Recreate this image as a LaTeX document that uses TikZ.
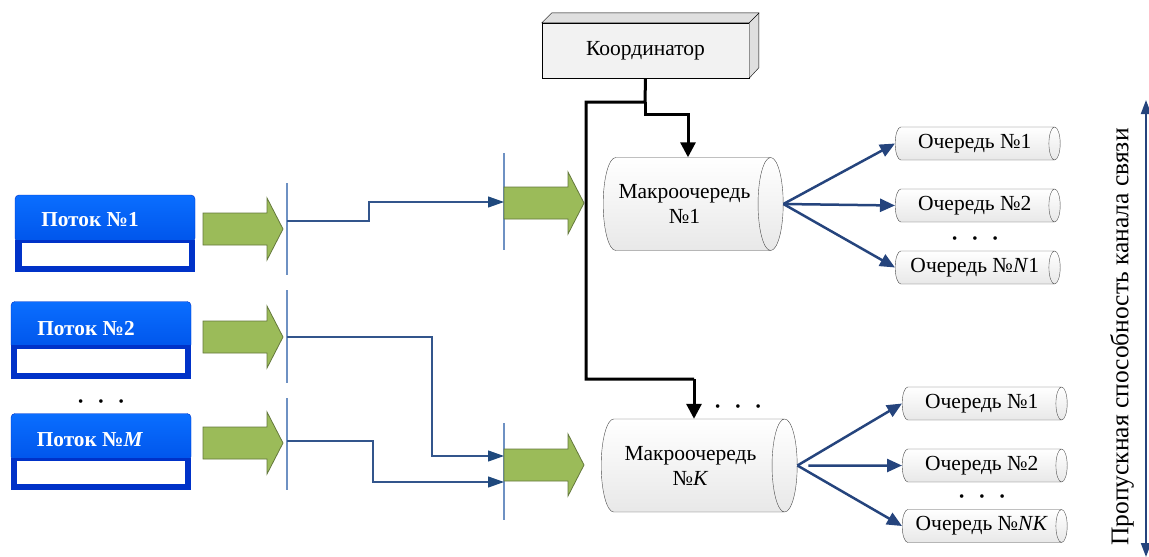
\documentclass[tikz,border=0pt]{standalone}
\usepackage{fontspec}
\setmainfont{Liberation Serif}
\usetikzlibrary{arrows.meta,shapes.geometric,positioning}

\definecolor{flowtop}{RGB}{10,110,255}
\definecolor{flowbot}{RGB}{0,85,235}
\definecolor{flowrim}{RGB}{0,50,200}
\definecolor{greenfill}{RGB}{155,187,89}
\definecolor{greendraw}{RGB}{100,120,60}
\definecolor{barblue}{RGB}{110,145,195}
\definecolor{linkblue}{RGB}{50,85,140}
\definecolor{tipblue}{RGB}{31,73,125}
\definecolor{qblue}{RGB}{37,68,125}

\tikzset{
  flowhead/.style={rounded corners=4pt, top color=flowtop, bottom color=flowbot,
    draw=flowrim, minimum width=180, minimum height=47},
  flowlabel/.style={text=white, font=\fontsize{21.3}{25}\selectfont\bfseries},
  greenarrow/.style={fill=greenfill, draw=greendraw, line width=0.8pt},
  bigarrow/.pic={\draw[greenarrow] (-40,-16) -- (24,-16) -- (24,-31) -- (40,0)
    -- (24,31) -- (24,16) -- (-40,16) -- cycle;},
  bar/.style={draw=barblue, line width=1.5pt},
  link/.style={draw=linkblue, line width=1.2pt, -{Triangle[length=16pt,width=11pt,color=tipblue]}},
  ctrl/.style={line width=3pt, -{Triangle[length=15pt,width=15pt]}},
  coordbox/.style={draw, fill=gray!10, minimum width=207, minimum height=55,
    font=\fontsize{21.5}{25}\selectfont},
  macro/.style={cylinder, shape border rotate=0, aspect=0.55, draw=gray!60!black,
    top color=white, bottom color=gray!18, minimum width=93, anchor=west,
    align=center, font=\fontsize{21.5}{25}\selectfont},
  queue/.style={cylinder, shape border rotate=0, aspect=0.6, draw=gray!60!black,
    top color=white, bottom color=gray!18, minimum width=33, minimum height=165,
    anchor=west, inner sep=0pt, font=\fontsize{21.5}{25}\selectfont},
  qarrow/.style={draw=qblue, line width=2.5pt, -{Triangle[length=15pt,width=13pt]}},
  dots/.style={font=\fontsize{15}{15}\selectfont},
}

\begin{document}
\begin{tikzpicture}[x=1pt, y=-1pt]
\useasboundingbox (0,0) rectangle (1149,557);

% flows
\node[flowhead] (flow1) at (105,218.5) {};
\fill[flowrim] (15,240) rectangle (195,272);
\fill[white] (22,243) rectangle (189,266);
\node[flowlabel] (flow1text) at (90,220) {Поток №1};
\node[flowhead] (flow2) at (101,325) {};
\fill[flowrim] (11,345) rectangle (191,379);
\fill[white] (17,349) rectangle (185,373);
\node[flowlabel] (flow2text) at (86,329) {Поток №2};
\node[flowhead] (flowM) at (101,437) {};
\fill[flowrim] (11,458) rectangle (191,490);
\fill[white] (17,461) rectangle (185,484);
\node[flowlabel] (flowMtext) at (90,440) {Поток №\textit{M}};
\node[dots] (fdots) at (101,403) {\textbullet\hspace{15pt}\textbullet\hspace{15pt}\textbullet};

% input arrows
\pic at (243,229) {bigarrow};
\pic at (243,337) {bigarrow};
\pic at (243,443) {bigarrow};

% bars
\draw[bar] (287,183) -- (287,275);
\draw[bar] (287,290) -- (287,383);
\draw[bar] (287,398) -- (287,490);
\draw[bar] (504,153) -- (504,250);
\draw[bar] (504,423) -- (504,520);

% switching
\coordinate (s1) at (287,221);
\coordinate (s2) at (287,337);
\coordinate (s3) at (287,441);
\coordinate (t1) at (504,202);
\coordinate (t2) at (504,456);
\coordinate (t3) at (504,482);
\draw[link] (s1) -- (369,221) |- (t1);
\draw[link] (s2) -- (432,337) |- (t2);
\draw[link] (s3) -- (373,441) |- (t3);

\pic at (544,203) {bigarrow};
\pic at (544,465) {bigarrow};

% coordinator
\node[coordbox] (coord) at (645.5,50.5) {Координатор};
\draw[fill=gray!25] (coord.north west) -- ++(10,-10) -- ++(207,0) -- ++(0,55)
  -- (coord.south east) -- (coord.north east) -- cycle;
\draw (coord.north east) -- ++(10,-10);

% macro queues
\node[macro, minimum height=180] (macro1) at (603,204) {Макроочередь\\№1};
\node[macro, minimum height=196] (macroK) at (601,465.5) {Макроочередь\\№\textit{K}};
\node[dots] (kdots) at (738,408) {\textbullet\hspace{15pt}\textbullet\hspace{15pt}\textbullet};

\coordinate (c1) at (645,102);
\coordinate (m0) at (688,114);
\coordinate (k0) at (694,379);
\draw[line width=3pt] (coord.south) -- (c1) -| (586,379) -- (k0);
\draw[ctrl] (k0) -- (k0 |- macroK.north);
\draw[ctrl] (c1) |- (m0) -- (m0 |- macro1.north);

% queues
\node[queue] (q1a) at (895,143.5) {Очередь №1};
\node[queue] (q2a) at (895,205.5) {Очередь №2};
\node[queue] (qNa) at (895,267.5) {Очередь №\textit{N}1};
\node[dots] (adots) at (975,240) {\textbullet\hspace{15pt}\textbullet\hspace{15pt}\textbullet};
\node[queue] (q1k) at (902,403.5) {Очередь №1};
\node[queue] (q2k) at (902,465.5) {Очередь №2};
\node[queue] (qNk) at (902,526) {Очередь №\textit{NK}};
\node[dots] (bdots) at (982,498) {\textbullet\hspace{15pt}\textbullet\hspace{15pt}\textbullet};

\draw[qarrow] (macro1.east) -- (q1a.west);
\draw[qarrow] (macro1.east) -- (q2a.west);
\draw[qarrow] (macro1.east) -- (qNa.west);
\draw[qarrow] (macroK.east) -- (q1k.west);
\draw[qarrow, shorten <=11pt] (macroK.east) -- (q2k.west);
\draw[qarrow] (macroK.east) -- (qNk.west);

% capacity
\coordinate (bwtop) at (1146,100);
\coordinate (bwbot) at (1146,557);
\draw[draw=qblue, line width=2pt, {Triangle[length=14pt,width=10pt]}-{Triangle[length=14pt,width=10pt]}] (bwbot) -- (bwtop);
\node[rotate=90, font=\fontsize{25.5}{30}\selectfont] (bwlabel) at (1122,337) {Пропускная способность канала связи};
\end{tikzpicture}
\end{document}
